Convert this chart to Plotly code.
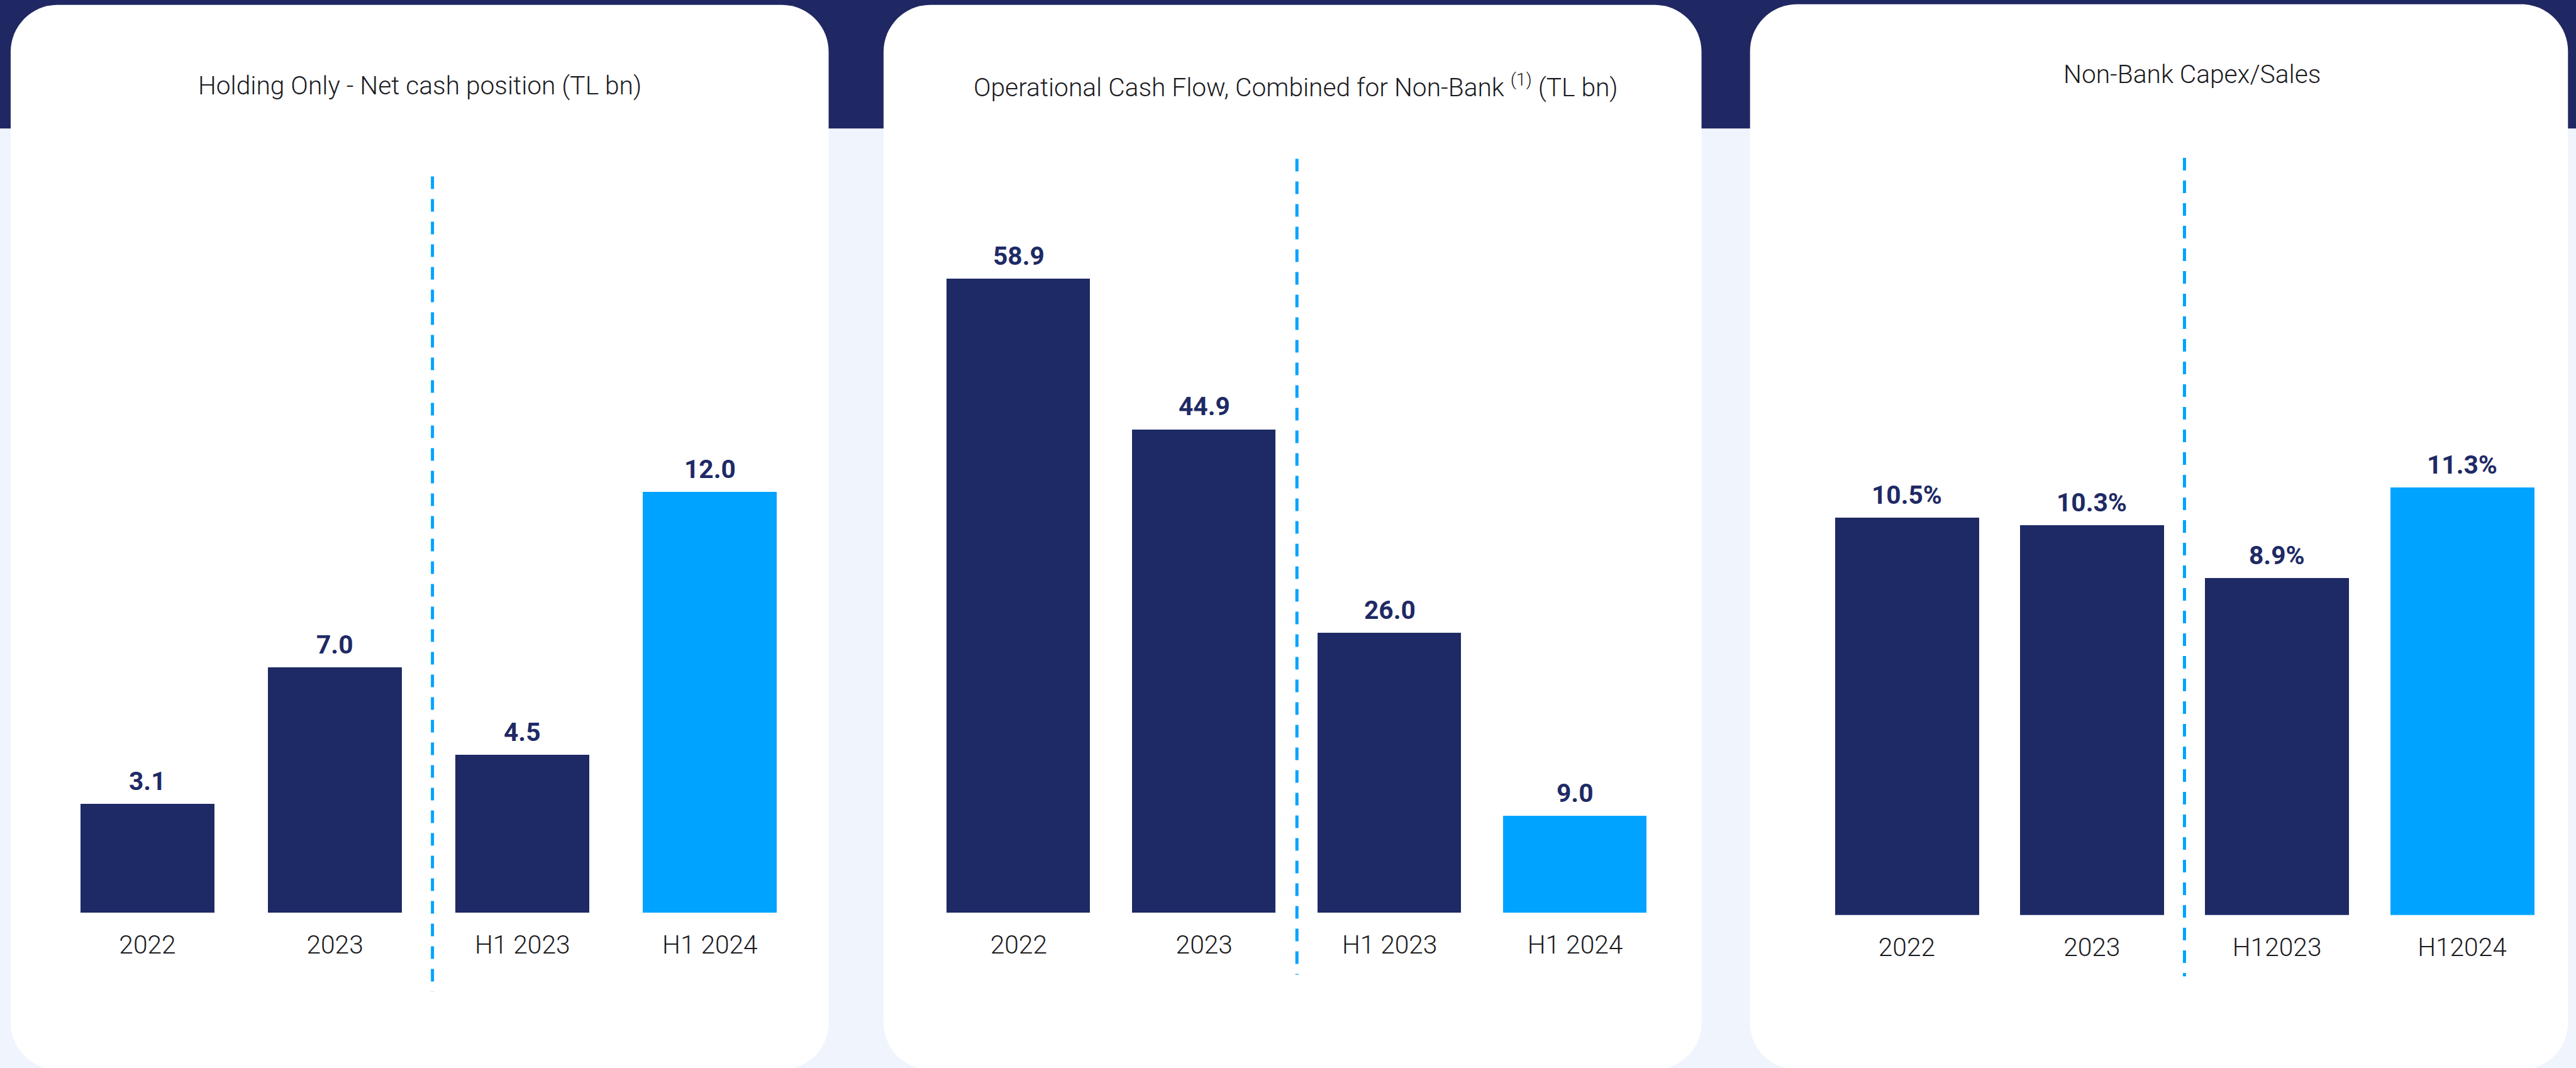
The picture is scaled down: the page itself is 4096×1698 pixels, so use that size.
import plotly.graph_objects as go

# Canvas geometry: layout is worked out on a 4831x2003 design grid and scaled to the output size
W_REF, H_REF = 4831, 2003
W, H = 4096, 1698
S = W / W_REF

# ---- data -------------------------------------------------------------
cash_categories = ["2022", "2023", "H1 2023", "H1 2024"]
net_cash_tl_bn = [3.1, 7.0, 4.5, 12.0]

ocf_categories = ["2022", "2023", "H1 2023", "H1 2024"]
operational_cash_flow_tl_bn = [58.9, 44.9, 26.0, 9.0]

capex_categories = ["2022", "2023", "H12023", "H12024"]
capex_to_sales_pct = [10.5, 10.3, 8.9, 11.3]

panel_titles = [
    "Holding Only - Net cash position (TL bn)",
    "Operational Cash Flow, Combined for Non-Bank <sup>(1)</sup> (TL bn)",
    "Non-Bank Capex/Sales",
]

# ---- style ------------------------------------------------------------
NAVY = "#1E2A65"
BRIGHT = "#00A3FF"
BAND = "#1F2862"
PAGE_BG = "#EFF4FD"
TEXT_DARK = "#1B1B1F"
FONT = "Roboto"


def px_x(x):
    return x / W_REF


def px_y(y):
    return 1 - y / H_REF


# geometry of each card / plot area on the design grid
panels = [
    dict(cats=cash_categories, vals=net_cash_tl_bn, fmt="{:.1f}",
         card=(20, 9, 1554, 2006), xdom=(100.7, 1507.3), base=1712, top=250,
         per_unit=65.8, width=0.714, title_xy=(787, 161),
         sep_x=1.52, sep_y=(331, 1860)),
    dict(cats=ocf_categories, vals=operational_cash_flow_tl_bn, fmt="{:.1f}",
         card=(1657, 9, 3191, 2006), xdom=(1736.6, 3127.9), base=1712, top=250,
         per_unit=20.2, width=0.773, title_xy=(2430, 161),
         sep_x=1.5, sep_y=(298, 1828)),
    dict(cats=capex_categories, vals=capex_to_sales_pct, fmt="{:.1f}%",
         card=(3282, 8, 4816, 2006), xdom=(3402.4, 4791.1), base=1716, top=250,
         per_unit=71.0, width=0.778, title_xy=(4111, 139),
         sep_x=1.5, sep_y=(296, 1831)),
]


def rounded_rect(x0, y0, x1, y1, r):
    """SVG path (paper coords) of a rounded rectangle given in design pixels."""
    k = 0.5523 * r
    X = px_x
    Y = px_y
    p = f"M {X(x0 + r)},{Y(y0)} L {X(x1 - r)},{Y(y0)} "
    p += f"C {X(x1 - r + k)},{Y(y0)} {X(x1)},{Y(y0 + r - k)} {X(x1)},{Y(y0 + r)} "
    p += f"L {X(x1)},{Y(y1 - r)} "
    p += f"C {X(x1)},{Y(y1 - r + k)} {X(x1 - r + k)},{Y(y1)} {X(x1 - r)},{Y(y1)} "
    p += f"L {X(x0 + r)},{Y(y1)} "
    p += f"C {X(x0 + r - k)},{Y(y1)} {X(x0)},{Y(y1 - r + k)} {X(x0)},{Y(y1 - r)} "
    p += f"L {X(x0)},{Y(y0 + r)} "
    p += f"C {X(x0)},{Y(y0 + r - k)} {X(x0 + r - k)},{Y(y0)} {X(x0 + r)},{Y(y0)} Z"
    return p


fig = go.Figure()

shapes = [
    # navy header band behind the cards
    dict(type="rect", xref="paper", yref="paper", x0=0, x1=1,
         y0=px_y(241), y1=1, fillcolor=BAND, line_width=0, layer="below"),
]
annotations = []
layout_axes = {}

for i, p in enumerate(panels, start=1):
    xa = "x" if i == 1 else f"x{i}"
    ya = "y" if i == 1 else f"y{i}"
    colors = [NAVY, NAVY, NAVY, BRIGHT]

    fig.add_trace(go.Bar(
        x=p["cats"], y=p["vals"], xaxis=xa, yaxis=ya,
        marker=dict(color=colors, line_width=0),
        width=p["width"], showlegend=False, hoverinfo="skip",
    ))

    ymax = (p["base"] - p["top"]) / p["per_unit"]
    layout_axes["xaxis" if i == 1 else f"xaxis{i}"] = dict(
        domain=[px_x(p["xdom"][0]), px_x(p["xdom"][1])],
        anchor=ya, type="category", range=[-0.5, 3.5],
        categoryorder="array", categoryarray=p["cats"],
        showgrid=False, zeroline=False, showline=False,
        ticks="outside", ticklen=15, tickcolor="rgba(0,0,0,0)",
        tickfont=dict(family=FONT, size=48 * S, color=TEXT_DARK, weight=300),
        fixedrange=True,
    )
    layout_axes["yaxis" if i == 1 else f"yaxis{i}"] = dict(
        domain=[px_y(p["base"]), px_y(p["top"])],
        anchor=xa, range=[0, ymax], visible=False, fixedrange=True,
    )

    # white card
    x0, y0, x1, y1 = p["card"]
    shapes.append(dict(type="path", xref="paper", yref="paper",
                       path=rounded_rect(x0, y0, x1, y1, 88),
                       fillcolor="white", line_width=0, layer="below"))

    # dashed divider between annual and half-year figures
    shapes.append(dict(type="line", xref=xa, yref="paper",
                       x0=p["sep_x"], x1=p["sep_x"],
                       y0=px_y(p["sep_y"][0]), y1=px_y(p["sep_y"][1]),
                       line=dict(color=BRIGHT, width=5, dash="20px,16px"),
                       layer="above"))

    # value labels above each bar (x given as the category position)
    for idx, v in enumerate(p["vals"]):
        annotations.append(dict(
            x=idx, y=v, xref=xa, yref=ya, text=p["fmt"].format(v),
            showarrow=False, yanchor="bottom", yshift=10,
            font=dict(family=FONT, size=48 * S, color=NAVY, weight=700),
        ))

    # card title
    tx, ty = p["title_xy"]
    annotations.append(dict(
        x=px_x(tx), y=px_y(ty), xref="paper", yref="paper",
        text=panel_titles[i - 1], showarrow=False,
        xanchor="center", yanchor="middle",
        font=dict(family=FONT, size=48 * S, color=TEXT_DARK, weight=300),
    ))

fig.update_layout(
    width=W, height=H,
    margin=dict(l=0, r=0, t=0, b=0),
    paper_bgcolor=PAGE_BG, plot_bgcolor="rgba(0,0,0,0)",
    shapes=shapes, annotations=annotations,
    bargap=0,
    **layout_axes,
)

fig.write_html("out.html")
